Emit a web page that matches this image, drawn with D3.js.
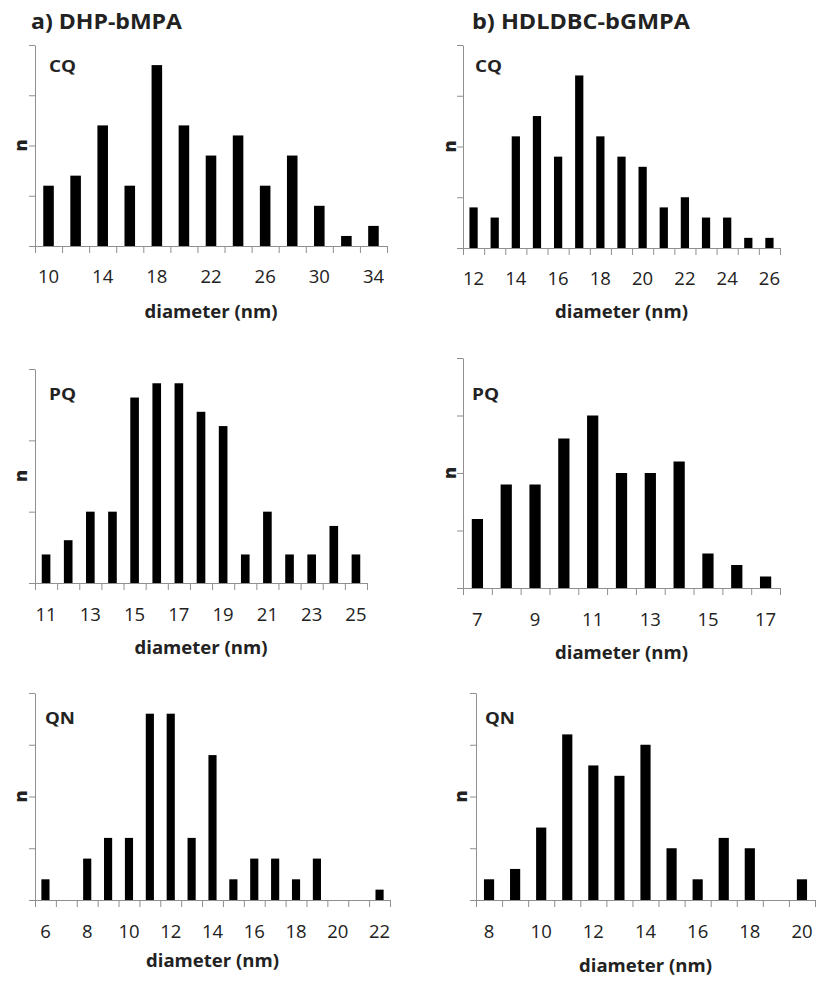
<!DOCTYPE html>
<html>
<head>
<meta charset="utf-8">
<script src="https://cdn.jsdelivr.net/npm/d3@7"></script>
<style>
  html, body { margin: 0; padding: 0; background: #fff; }
  svg { display: block; }
  text { font-family: "Open Sans", "DejaVu Sans", sans-serif; fill: #222; }
</style>
</head>
<body>
<svg id="chart" width="817" height="983"></svg>
<script>
// Particle size distributions (counts per diameter class, nm)

// a) DHP-bMPA
const cqA_diam = [10, 12, 14, 16, 18, 20, 22, 24, 26, 28, 30, 32, 34];
const cqA_n    = [6, 7, 12, 6, 18, 12, 9, 11, 6, 9, 4, 1, 2];
const cqA_ticks = [10, 14, 18, 22, 26, 30, 34];

const pqA_diam = [11, 12, 13, 14, 15, 16, 17, 18, 19, 20, 21, 22, 23, 24, 25];
const pqA_n    = [2, 3, 5, 5, 13, 14, 14, 12, 11, 2, 5, 2, 2, 4, 2];
const pqA_ticks = [11, 13, 15, 17, 19, 21, 23, 25];

const qnA_diam = [6, 7, 8, 9, 10, 11, 12, 13, 14, 15, 16, 17, 18, 19, 20, 21, 22];
const qnA_n    = [2, 0, 4, 6, 6, 18, 18, 6, 14, 2, 4, 4, 2, 4, 0, 0, 1];
const qnA_ticks = [6, 8, 10, 12, 14, 16, 18, 20, 22];

// b) HDLDBC-bGMPA
const cqB_diam = [12, 13, 14, 15, 16, 17, 18, 19, 20, 21, 22, 23, 24, 25, 26];
const cqB_n    = [4, 3, 11, 13, 9, 17, 11, 9, 8, 4, 5, 3, 3, 1, 1];
const cqB_ticks = [12, 14, 16, 18, 20, 22, 24, 26];

const pqB_diam = [7, 8, 9, 10, 11, 12, 13, 14, 15, 16, 17];
const pqB_n    = [6, 9, 9, 13, 15, 10, 10, 11, 3, 2, 1];
const pqB_ticks = [7, 9, 11, 13, 15, 17];

const qnB_diam = [8, 9, 10, 11, 12, 13, 14, 15, 16, 17, 18, 19, 20];
const qnB_n    = [2, 3, 7, 16, 13, 12, 15, 5, 2, 6, 5, 0, 2];
const qnB_ticks = [8, 10, 12, 14, 16, 18, 20];

const columnTitles = ["a) DHP-bMPA", "b) HDLDBC-bGMPA"];
const yStep = 5;

// panel frames (pixel layout) paired with their data
const panels = [
  { name: "CQ", diam: cqA_diam, n: cqA_n, ticks: cqA_ticks, yMax: 20,
    x0: 35, x1: 387, yTop: 45, yBase: 246, tickY: 283, titleY: 318, nameX: 49, nameY: 72, nameW: 27, nX: 21 },
  { name: "CQ", diam: cqB_diam, n: cqB_n, ticks: cqB_ticks, yMax: 20,
    x0: 463, x1: 780, yTop: 45, yBase: 248, tickY: 285, titleY: 318, nameX: 475, nameY: 72, nameW: 27, nX: 450 },
  { name: "PQ", diam: pqA_diam, n: pqA_n, ticks: pqA_ticks, yMax: 15,
    x0: 35, x1: 367, yTop: 369, yBase: 583, tickY: 621, titleY: 654, nameX: 49, nameY: 400, nameW: 27, nX: 21 },
  { name: "PQ", diam: pqB_diam, n: pqB_n, ticks: pqB_ticks, yMax: 20,
    x0: 463, x1: 780, yTop: 358, yBase: 588, tickY: 626, titleY: 659, nameX: 472, nameY: 400, nameW: 27, nX: 450 },
  { name: "QN", diam: qnA_diam, n: qnA_n, ticks: qnA_ticks, yMax: 20,
    x0: 35, x1: 390, yTop: 693, yBase: 900, tickY: 938, titleY: 967, nameX: 45, nameY: 724, nameW: 30, nX: 21 },
  { name: "QN", diam: qnB_diam, n: qnB_n, ticks: qnB_ticks, yMax: 20,
    x0: 476, x1: 815, yTop: 693, yBase: 900, tickY: 938, titleY: 972, nameX: 485, nameY: 724, nameW: 30, nX: 461 }
];

const svg = d3.select("#chart");
const axisColor = "#8f8f8f";

// column headings
svg.append("text").attr("x", 31).attr("y", 29)
  .attr("font-size", 21).attr("font-weight", 700)
  .attr("textLength", 151).attr("lengthAdjust", "spacingAndGlyphs")
  .text(columnTitles[0]);
svg.append("text").attr("x", 472).attr("y", 29)
  .attr("font-size", 21).attr("font-weight", 700)
  .attr("textLength", 218).attr("lengthAdjust", "spacingAndGlyphs")
  .text(columnTitles[1]);

panels.forEach(p => {
  const g = svg.append("g");

  const x = d3.scaleBand()
    .domain(p.diam)
    .range([p.x0, p.x1])
    .paddingInner(0.61)
    .paddingOuter(0.305);

  // category boundaries for the tick marks
  const xb = d3.scaleLinear().domain([0, p.diam.length]).range([p.x0, p.x1]);

  const y = d3.scaleLinear().domain([0, p.yMax]).range([p.yBase, p.yTop]);

  // bars
  g.append("g").selectAll("rect")
    .data(p.diam.map((d, i) => ({ d, v: p.n[i] })))
    .join("rect")
    .attr("x", d => x(d.d))
    .attr("width", x.bandwidth())
    .attr("y", d => y(d.v))
    .attr("height", d => y(0) - y(d.v))
    .attr("fill", "#000");

  // y axis: unlabeled ticks
  const yAxis = g.append("g")
    .attr("transform", `translate(${p.x0},0)`)
    .call(d3.axisLeft(y)
      .tickValues(d3.range(0, p.yMax + 1, yStep))
      .tickFormat("")
      .tickSize(6)
      .tickSizeOuter(0));
  yAxis.selectAll("path, line").attr("stroke", axisColor);

  // x axis line with boundary ticks
  const xAxis = g.append("g")
    .attr("transform", `translate(0,${p.yBase})`)
    .call(d3.axisBottom(xb)
      .tickValues(d3.range(p.diam.length + 1))
      .tickFormat("")
      .tickSize(7)
      .tickSizeOuter(0));
  xAxis.selectAll("path, line").attr("stroke", axisColor);

  // category labels (every second class)
  g.append("g").selectAll("text")
    .data(p.ticks)
    .join("text")
    .attr("x", d => x(d) + x.bandwidth() / 2)
    .attr("y", p.tickY)
    .attr("text-anchor", "middle")
    .attr("font-size", 18.5)
    .attr("fill", "#333")
    .text(d => d);

  // axis title
  g.append("text")
    .attr("x", (p.x0 + p.x1) / 2)
    .attr("y", p.titleY)
    .attr("text-anchor", "middle")
    .attr("font-size", 17.5)
    .attr("font-weight", 700)
    .attr("textLength", 133)
    .attr("lengthAdjust", "spacingAndGlyphs")
    .text("diameter (nm)");

  // y axis label
  g.append("text")
    .attr("transform", `translate(${p.nX + 6},${(p.yTop + p.yBase) / 2}) rotate(-90)`)
    .attr("text-anchor", "middle")
    .attr("font-size", 18)
    .attr("font-weight", 800)
    .attr("fill", "#111")
    .text("n");

  // sample name
  g.append("text")
    .attr("x", p.nameX)
    .attr("y", p.nameY)
    .attr("font-size", 15.5)
    .attr("font-weight", 700)
    .attr("fill", "#333")
    .attr("textLength", p.nameW)
    .attr("lengthAdjust", "spacingAndGlyphs")
    .text(p.name);
});
</script>
</body>
</html>
